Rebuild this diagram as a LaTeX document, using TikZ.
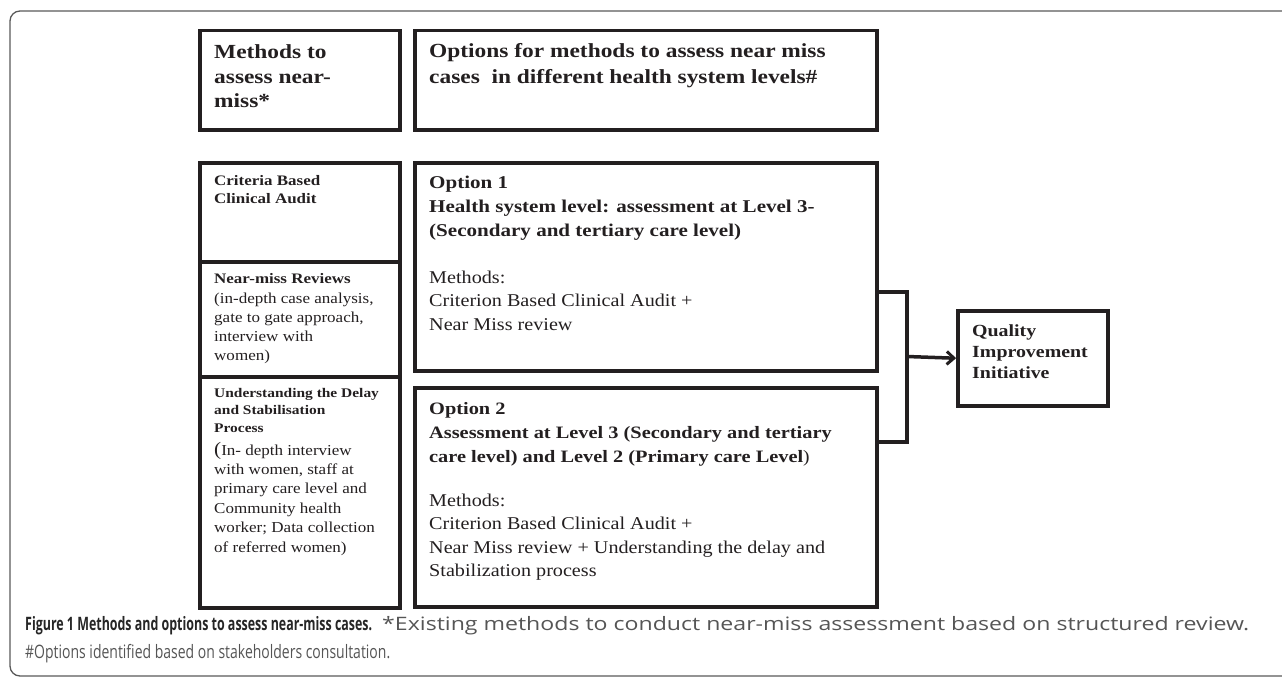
\documentclass[tikz,border=0pt]{standalone}
\usepackage{graphicx}
\usepackage{fontspec}
\setmainfont{Liberation Serif}[UprightFeatures={FakeStretch=1.12}, BoldFeatures={FakeStretch=1.17}]
\newfontfamily\capfont{Open Sans}
\usetikzlibrary{arrows.meta,calc}
\definecolor{ink}{HTML}{231F20}
\definecolor{capgray}{HTML}{555555}
\newcommand\ml[1]{\begin{tabular}[t]{@{}l@{}}#1\end{tabular}}
\tikzset{
  box/.style={draw=ink, line width=3.5pt, rectangle, inner sep=0pt, anchor=north west},
  txt/.style={anchor=base west, inner sep=0pt, text=ink},
  conn/.style={draw=ink, line width=3.5pt},
  captxt/.style={anchor=base west, inner sep=0pt, font=\capfont\fontsize{18.5}{22}\selectfont, text=capgray},
}
\begin{document}
\begin{tikzpicture}[x=1pt,y=-1pt]
\useasboundingbox (0,0) rectangle (1282,677);
% outer frame
\draw[gray!70!black, line width=1.3pt, rounded corners=10pt] (10,11) rectangle (1300,676);
% header boxes
\node[box, minimum width=200pt, minimum height=99pt] (h1) at (198,29) {};
\node[box, minimum width=462pt, minimum height=99pt] (h2) at (413,29) {};
\node[txt, font=\fontsize{20}{24.5}\selectfont\bfseries] (h1t) at (214,59) {\ml{Methods to\\assess near-\\miss*}};
\node[txt, font=\fontsize{20}{25}\selectfont\bfseries] (h2t) at (429,58) {\ml{Options for methods to assess near miss\\cases\ \ in different health system levels\#}};
% left column
\node[box, minimum width=200pt, minimum height=99pt] (c1) at (198,161) {};
\node[box, minimum width=200pt, minimum height=115pt] (c2) at (198,260) {};
\node[box, minimum width=200pt, minimum height=231pt] (c3) at (198,375) {};
\node[txt, font=\fontsize{14.5}{18}\selectfont\bfseries] (c1t) at (214,185) {\ml{Criteria Based\\Clinical Audit}};
\node[txt, font=\fontsize{14.5}{19.3}\selectfont\bfseries] (c2h) at (214,283) {Near-miss Reviews};
\node[txt, font=\fontsize{15.2}{19.3}\selectfont] (c2t) at (214,303) {\ml{(in-depth case analysis,\\gate to gate approach,\\interview with\\women)}};
\node[txt, font=\fontsize{13.2}{17.5}\selectfont\bfseries] (c3t) at (214,397) {\ml{Understanding the Delay\\and Stabilisation\\Process}};
\node[txt, font=\fontsize{15.2}{19.4}\selectfont] (c3u) at (214,455) {\ml{{\fontsize{19}{19.4}\selectfont(}In- depth interview\\with women, staff at\\primary care level and\\Community health\\worker; Data collection\\of referred women)}};
% options
\node[box, minimum width=462pt, minimum height=208pt] (o1) at (413,161) {};
\node[box, minimum width=462pt, minimum height=219pt] (o2) at (413,386) {};
\node[txt, font=\fontsize{18}{24}\selectfont\bfseries] (o1t) at (429,188) {\ml{Option 1\\Health system level: assessment at Level 3-\\(Secondary and tertiary care level)}};
\node[txt, font=\fontsize{18}{23.5}\selectfont] (o1m) at (429,283) {\ml{Methods:\\Criterion Based Clinical Audit +\\Near Miss review}};
\node[txt, font=\fontsize{17.4}{24}\selectfont\bfseries] (o2t) at (429,414) {\ml{Option 2\\Assessment at Level 3 (Secondary and tertiary\\care level) and Level 2 (Primary care Level\mdseries)}};
\node[txt, font=\fontsize{18}{23.5}\selectfont] (o2m) at (429,506) {\ml{Methods:\\Criterion Based Clinical Audit +\\Near Miss review + Understanding the delay and\\Stabilization process}};
% quality box
\node[box, minimum width=150pt, minimum height=95pt] (qi) at (956,309) {};
\node[txt, font=\fontsize{17}{21}\selectfont\bfseries] (qit) at (972,336) {\ml{Quality\\Improvement\\Initiative}};
% bracket connector
\coordinate (b1) at (907,292);
\coordinate (b2) at (907,442);
\coordinate (bm) at (907,356.5);
\draw[conn] (o1.east |- b1) -- (b1) -- (b2) -- (o2.east |- b2);
\draw[conn, -{Straight Barb[length=7pt,width=13pt,line width=3pt]}] (bm) -- (qi.west);
% caption
\node[captxt, text=black!85] (cap1a) at (25,630) {\resizebox{347pt}{\height}{\bfseries Figure 1 Methods and options to assess near-miss cases.}};
\node[captxt] (cap1b) at (382,630) {\resizebox{867pt}{\height}{*Existing methods to conduct near-miss assessment based on structured review.}};
\node[captxt] (cap2) at (25,658) {\resizebox{365pt}{\height}{\#Options identified based on stakeholders consultation.}};
\end{tikzpicture}
\end{document}
